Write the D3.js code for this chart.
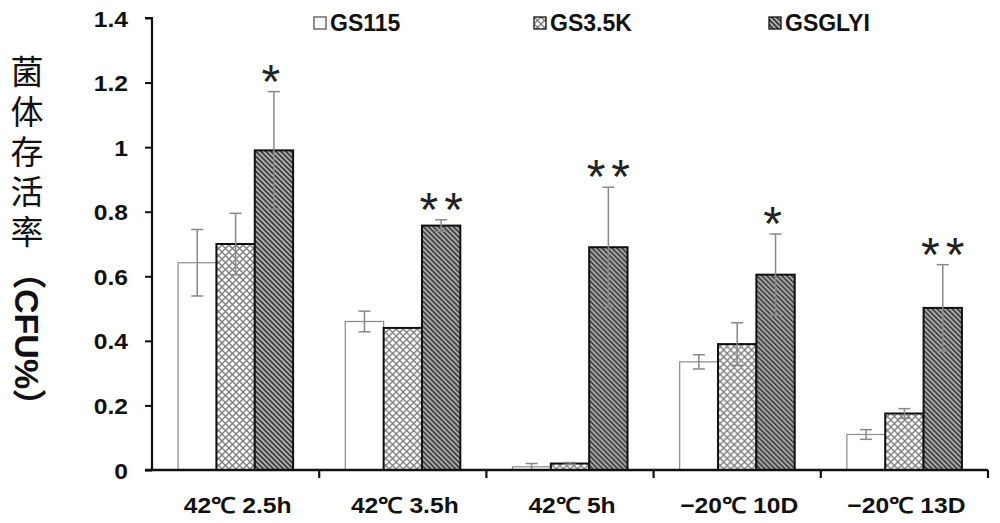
<!DOCTYPE html>
<html>
<head>
<meta charset="utf-8">
<script src="https://cdn.jsdelivr.net/npm/d3@7"></script>
<style>
  body { margin: 0; background: #fff; }
  svg text { font-family: Arial, "Liberation Sans", sans-serif; }
</style>
</head>
<body>
<div id="chart"></div>
<script>
var categories = ["42℃ 2.5h", "42℃ 3.5h", "42℃ 5h", "\u221220℃ 10D", "\u221220℃ 13D"];
var series = ["GS115", "GS3.5K", "GSGLYI"];
var valGS115 = [0.642, 0.460, 0.010, 0.335, 0.110];
var errGS115 = [0.103, 0.032, 0.010, 0.022, 0.015];
var valGS35K = [0.700, 0.440, 0.020, 0.390, 0.175];
var errGS35K = [0.095, 0.000, 0.003, 0.066, 0.015];
var valGSGLYI = [0.990, 0.757, 0.690, 0.605, 0.502];
var errGSGLYI = [0.182, 0.018, 0.186, 0.126, 0.134];
var stars = ["*", "**", "**", "*", "**"];
var yTicks = [0, 0.2, 0.4, 0.6, 0.8, 1, 1.2, 1.4];

var width = 1000, height = 523;
var margin = {top: 18, right: 12, bottom: 53, left: 152};

var svg = d3.select("#chart").append("svg")
    .attr("width", width)
    .attr("height", height);

var defs = svg.append("defs");

// cross hatch for GS3.5K
var cross = defs.append("pattern")
    .attr("id", "cross")
    .attr("patternUnits", "userSpaceOnUse")
    .attr("width", 7).attr("height", 7);
cross.append("rect").attr("width", 7).attr("height", 7).attr("fill", "#fff");
cross.append("path").attr("d", "M0,0L7,7M7,0L0,7")
    .attr("stroke", "#7a7a7a").attr("stroke-width", 1.3);

// diagonal stripes for GSGLYI
var stripe = defs.append("pattern")
    .attr("id", "stripe")
    .attr("patternUnits", "userSpaceOnUse")
    .attr("width", 5).attr("height", 5);
stripe.append("rect").attr("width", 5).attr("height", 5).attr("fill", "#444");
stripe.append("path").attr("d", "M-1,-1L6,6M-1,4L1,6M4,-1L6,1")
    .attr("stroke", "#c4c4c4").attr("stroke-width", 1.4);

var fills = ["#fff", "url(#cross)", "url(#stripe)"];
var strokes = ["#8a8a8a", "#111", "#111"];
var strokeW = [1.2, 2, 2];

var data = categories.map(function (c, i) {
    return {
        cat: c,
        star: stars[i],
        bars: [
            {s: 0, v: valGS115[i], e: errGS115[i]},
            {s: 1, v: valGS35K[i], e: errGS35K[i]},
            {s: 2, v: valGSGLYI[i], e: errGSGLYI[i]}
        ]
    };
});

var x0 = d3.scaleBand()
    .domain(categories)
    .range([margin.left, width - margin.right])
    .padding(0);

var x1 = d3.scaleBand()
    .domain([0, 1, 2])
    .range([0, x0.bandwidth()])
    .paddingInner(0)
    .paddingOuter(0.68);

var y = d3.scaleLinear()
    .domain([0, 1.4])
    .range([height - margin.bottom, margin.top]);

// bars
var groups = svg.append("g").selectAll("g")
    .data(data)
    .enter()
    .append("g")
    .attr("transform", function (d) { return "translate(" + x0(d.cat) + ",0)"; });

groups.selectAll("rect")
    .data(function (d) { return d.bars; })
    .enter()
    .append("rect")
    .attr("x", function (d) { return x1(d.s); })
    .attr("y", function (d) { return y(d.v); })
    .attr("width", x1.bandwidth())
    .attr("height", function (d) { return y(0) - y(d.v); })
    .attr("fill", function (d) { return fills[d.s]; })
    .attr("stroke", function (d) { return strokes[d.s]; })
    .attr("stroke-width", function (d) { return strokeW[d.s]; });

// error bars
var err = groups.selectAll("g.err")
    .data(function (d) { return d.bars.filter(function (b) { return b.e > 0; }); })
    .enter()
    .append("g")
    .attr("class", "err")
    .attr("stroke", "#888")
    .attr("stroke-width", 1.5);

err.append("line")
    .attr("x1", function (d) { return x1(d.s) + x1.bandwidth() / 2; })
    .attr("x2", function (d) { return x1(d.s) + x1.bandwidth() / 2; })
    .attr("y1", function (d) { return y(d.v - d.e); })
    .attr("y2", function (d) { return y(d.v + d.e); });

[-1, 1].forEach(function (k) {
    err.append("line")
        .attr("x1", function (d) { return x1(d.s) + x1.bandwidth() / 2 - 6; })
        .attr("x2", function (d) { return x1(d.s) + x1.bandwidth() / 2 + 6; })
        .attr("y1", function (d) { return y(d.v + k * d.e); })
        .attr("y2", function (d) { return y(d.v + k * d.e); });
});

// significance stars
groups.append("text")
    .attr("x", function (d) { return x1(2) + x1.bandwidth() / 2 + (d.star.length > 1 ? 3 : 0); })
    .attr("y", function (d) { return y(d.bars[2].v + d.bars[2].e) + 6; })
    .attr("text-anchor", "middle")
    .attr("font-size", 48)
    .attr("letter-spacing", 6)
    .attr("fill", "#222")
    .text(function (d) { return d.star; });

// y axis
var yAxis = svg.append("g")
    .attr("transform", "translate(" + margin.left + ",0)")
    .call(d3.axisLeft(y).tickValues(yTicks).tickSize(7).tickPadding(0)
        .tickFormat(function (d) { return d3.format("")(+d.toFixed(1)); }));
yAxis.selectAll("line").attr("stroke", "#111").attr("stroke-width", 2);
yAxis.select(".domain").attr("stroke", "#111").attr("stroke-width", 2.2)
    .attr("d", "M-7," + y(1.4) + "H0V" + y(0));
yAxis.selectAll(".tick text")
    .attr("x", null).attr("dy", null)
    .attr("transform", "translate(-24,8) scale(1.12,1)")
    .attr("font-size", 22).attr("font-weight", "bold").attr("fill", "#111");

// x axis
var xAxis = svg.append("g")
    .attr("transform", "translate(0," + y(0) + ")");
xAxis.append("line")
    .attr("x1", margin.left - 7).attr("x2", width - margin.right)
    .attr("stroke", "#111").attr("stroke-width", 2.5);
var bounds = categories.map(function (c) { return x0(c) + x0.bandwidth(); });
xAxis.selectAll("line.tick")
    .data(bounds)
    .enter()
    .append("line")
    .attr("class", "tick")
    .attr("x1", function (d) { return d; })
    .attr("x2", function (d) { return d; })
    .attr("y1", 0).attr("y2", 8)
    .attr("stroke", "#111").attr("stroke-width", 2.2);
xAxis.selectAll("text")
    .data(categories)
    .enter()
    .append("text")
    .attr("transform", function (d) {
        return "translate(" + (x0(d) + x0.bandwidth() / 2 + 2) + ",43) scale(1.12,1)";
    })
    .attr("text-anchor", "middle")
    .attr("font-size", 22)
    .attr("font-weight", "bold")
    .attr("fill", "#111")
    .text(function (d) { return d; });

// y axis title, written vertically
var title = svg.append("text")
    .attr("x", 27)
    .attr("y", 55)
    .style("writing-mode", "vertical-rl")
    .style("font-family", "Arial, 'Liberation Sans', 'Noto Sans CJK SC', sans-serif")
    .attr("fill", "#111");
title.append("tspan")
    .style("font-family", "'Noto Sans CJK SC', sans-serif")
    .attr("font-size", 33)
    .attr("letter-spacing", 7)
    .text("菌体存活率");
title.append("tspan")
    .attr("font-size", 34)
    .attr("font-weight", "bold")
    .text("（CFU%）");

// legend
var legendX = [314, 534, 769];
var legend = svg.append("g").selectAll("g")
    .data(series)
    .enter()
    .append("g")
    .attr("transform", function (d, i) { return "translate(" + legendX[i] + ",17)"; });
legend.append("rect")
    .attr("width", 12).attr("height", 12)
    .attr("fill", function (d, i) { return fills[i]; })
    .attr("stroke", function (d, i) { return i === 0 ? "#555" : "#111"; })
    .attr("stroke-width", 1.3);
legend.append("text")
    .attr("x", 16).attr("y", 14)
    .attr("font-size", 23)
    .attr("font-weight", "bold")
    .attr("fill", "#111")
    .text(function (d) { return d; });
</script>
</body>
</html>
